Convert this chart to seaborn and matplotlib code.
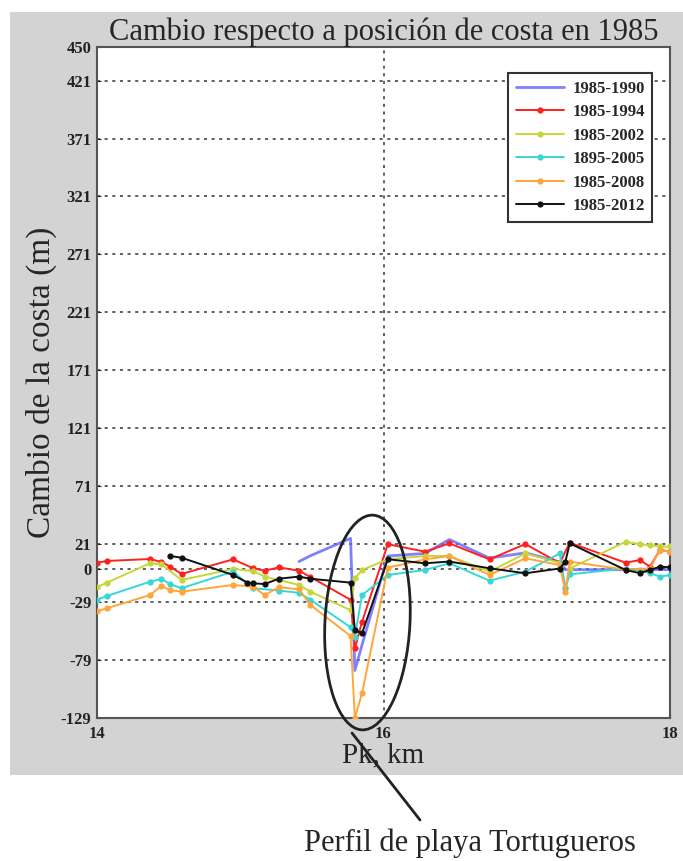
import numpy as np
import pandas as pd
import matplotlib
matplotlib.use("Agg")
import matplotlib.pyplot as plt
import seaborn as sns
from matplotlib.patches import Ellipse, Rectangle
from matplotlib.lines import Line2D
from matplotlib.transforms import Affine2D, ScaledTranslation

# ---------------- data ----------------
labels = ["1985-1990", "1985-1994", "1985-2002", "1895-2005", "1985-2008", "1985-2012"]

x_1990 = [15.41, 15.49, 15.77, 15.80, 15.85, 16.03, 16.29, 16.46, 16.74, 16.99, 17.23, 17.27, 17.30, 17.69, 17.79, 17.86, 17.93, 18.0]
y_1990 = [6, 11, 26, -88, -66, 10.8, 13, 25, 9, 13.5, 5.7, -1, -1, -1, -1, -1, -1, -1]

x_1994 = [14.0, 14.07, 14.37, 14.45, 14.51, 14.59, 14.95, 15.09, 15.17, 15.27, 15.41, 15.49, 15.77, 15.80, 15.85, 16.03, 16.29, 16.46, 16.74, 16.99, 17.23, 17.30, 17.69, 17.79, 17.86, 17.93, 18.0]
y_1994 = [5, 6.5, 8.2, 5.6, 1.6, -4.7, 7.9, 0.2, -1.9, 1.0, -1.9, -7.3, -27, -69, -46, 21, 14.5, 21.7, 7.9, 21.1, 4.7, 22.3, 5.0, 7.3, 1.6, 16, 14.5]

x_2002 = [14.0, 14.07, 14.37, 14.45, 14.59, 14.95, 15.09, 15.17, 15.27, 15.41, 15.49, 15.77, 15.80, 15.85, 16.03, 16.29, 16.46, 16.74, 16.99, 17.23, 17.27, 17.30, 17.69, 17.79, 17.86, 17.93, 18.0]
y_2002 = [-16, -12.2, 4.5, 3.6, -9.9, -0.4, -2.2, -7, -9.9, -14.2, -20, -36, -8.5, -1.3, 8, 10.8, 10.8, -2.7, 13, 5, -17, 0, 23, 21, 20, 19, 19]

x_2005 = [14.0, 14.07, 14.37, 14.45, 14.51, 14.59, 14.95, 15.09, 15.27, 15.41, 15.49, 15.77, 15.80, 15.85, 16.03, 16.29, 16.46, 16.74, 16.99, 17.23, 17.27, 17.30, 17.69, 17.79, 17.86, 17.93, 18.0]
y_2005 = [-27, -23.7, -11.4, -9, -13.4, -17, -2.7, -17, -19, -21, -27, -50.7, -58.8, -22.9, -5.6, -1.3, 4.5, -10.5, -2.7, 13, -17, -5, 0, -1.3, -4, -7, -5.6]

x_2008 = [14.0, 14.07, 14.37, 14.45, 14.51, 14.59, 14.95, 15.09, 15.17, 15.27, 15.41, 15.49, 15.77, 15.80, 15.85, 16.03, 16.29, 16.46, 16.74, 16.99, 17.23, 17.27, 17.30, 17.69, 17.86, 17.93, 18.0]
y_2008 = [-37, -34.3, -22.9, -15.1, -18.6, -20, -14.2, -15.7, -22.9, -16.2, -18, -31.5, -58.2, -129, -107.7, 0.7, 7.9, 10.8, -5.6, 8.8, 3, -20, 5.9, -1, 0, 16, 14.5]

x_2012 = [14.51, 14.59, 14.95, 15.05, 15.09, 15.17, 15.27, 15.41, 15.49, 15.77, 15.80, 15.85, 16.03, 16.29, 16.46, 16.74, 16.99, 17.23, 17.27, 17.30, 17.69, 17.79, 17.86, 17.93, 18.0]
y_2012 = [10.8, 9.3, -5.6, -12.2, -12.8, -13.4, -8.8, -7, -8.8, -12.2, -53, -56, 8, 4.5, 6, 0.2, -4.1, 0, 6, 21.7, -1.3, -4, -1.3, 1.6, 1]

y_ticks = [-129, -79, -29, 0, 21, 71, 121, 171, 221, 271, 321, 371, 421, 450]
x_ticks = [14, 16, 18]

series_x = [x_1990, x_1994, x_2002, x_2005, x_2008, x_2012]
series_y = [y_1990, y_1994, y_2002, y_2005, y_2008, y_2012]
colors = ["#6a6aff", "#ff2020", "#c6d63a", "#38d6d6", "#ffa53a", "#111111"]

frames = []
for lab, xs, ys in zip(labels, series_x, series_y):
    frames.append(pd.DataFrame({"x": xs, "y": ys, "serie": lab}))
df = pd.concat(frames, ignore_index=True)

# ---------------- style ----------------
sns.set_style("ticks")
plt.rcParams["font.family"] = ["Liberation Serif", "DejaVu Serif"]

fig = plt.figure(figsize=(6.83, 8.61), dpi=100)
fig.patch.set_facecolor("white")
# gray panel behind the plot
fig.add_artist(Rectangle((10 / 683, 1 - 775 / 861), 673 / 683, (775 - 12) / 861,
                         transform=fig.transFigure, facecolor="#d3d3d3",
                         edgecolor="none", zorder=0))

ax = fig.add_axes([97 / 683, 1 - 718 / 861, 573 / 683, 671 / 861])
ax.set_facecolor("white")

for lab, col in zip(labels, colors):
    sub = df[df["serie"] == lab]
    if lab == "1985-1990":
        sns.lineplot(data=sub, x="x", y="y", ax=ax, color=col, lw=2.0, alpha=0.85,
                     estimator=None, sort=False, label=lab, zorder=3)
    else:
        sns.lineplot(data=sub, x="x", y="y", ax=ax, color=col, lw=1.4,
                     marker="o", markersize=4.5, markeredgewidth=0,
                     estimator=None, sort=False, label=lab, zorder=3)

ax.set_xlim(14, 18)
ax.set_ylim(-129, 450)
ax.set_xticks(x_ticks)
ax.set_yticks(y_ticks)
ax.set_xticklabels([str(t) for t in x_ticks], fontweight="bold", fontsize=12)
ax.set_yticklabels([str(t) for t in y_ticks], fontweight="bold", fontsize=12)
ax.tick_params(axis="both", direction="in", length=3, width=0.8, colors="#222222", pad=4)
ax.tick_params(axis="x", pad=6)
ax.grid(True, linestyle=(0, (2, 3)), color="#333333", linewidth=1.1)

for s in ax.spines.values():
    s.set_color("#555555")
    s.set_linewidth(1.5)

ax.set_title("Cambio respecto a posición de costa en 1985", fontsize=22, pad=5)
ax.set_ylabel("Cambio de la costa (m)", fontsize=24, labelpad=3)
ax.set_xlabel("Pk, km", fontsize=21, labelpad=0)

leg = ax.legend(loc="upper right", bbox_to_anchor=(0.969, 0.961), borderaxespad=0,
                fancybox=False, framealpha=1, edgecolor="#333333",
                prop={"weight": "bold", "size": 12}, handlelength=2.9,
                handletextpad=0.5, labelspacing=0.45, borderpad=0.45)
leg.get_frame().set_linewidth(1.5)

# slightly tilted ellipse highlighting the profile (size in pixels, centre in data)
ell = Ellipse((0, 0), width=85, height=215, angle=-3, fill=False,
              edgecolor="#222222", lw=2.0, clip_on=False, zorder=5,
              transform=Affine2D() + ScaledTranslation(15.888, -46.6, ax.transData))
ax.add_artist(ell)

# pointer line and caption
fig.add_artist(Line2D([352 / 683, 420 / 683], [1 - 733 / 861, 1 - 820 / 861],
                      transform=fig.transFigure, color="#222222", lw=2.0))
fig.text(470 / 683, 1 - 843 / 861, "Perfil de playa Tortugueros", fontsize=22,
         ha="center", va="center")

fig.savefig("out.png", dpi=100)
